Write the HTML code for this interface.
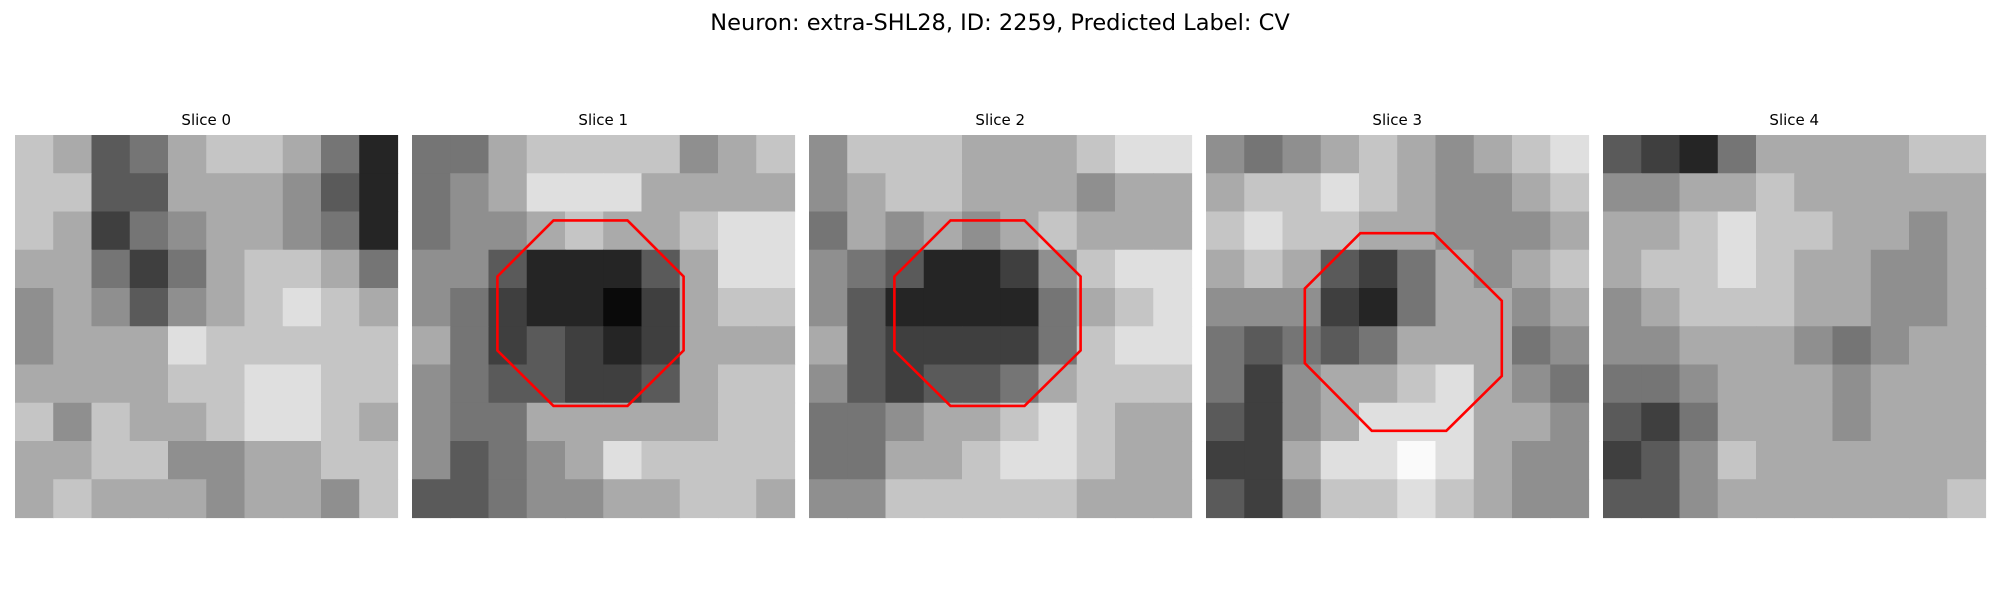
<!DOCTYPE html>
<html><head><meta charset="utf-8"><style>
html,body{margin:0;padding:0;background:#fff;width:2000px;height:600px;overflow:hidden}
svg{display:block}
text{font-family:"DejaVu Sans","Liberation Sans",sans-serif;fill:#000}
</style></head><body>
<svg id="fig" width="2000" height="600">
<text x="1000" y="30" font-size="22.5" text-anchor="middle">Neuron: extra-SHL28, ID: 2259, Predicted Label: CV</text>
</svg>
<script>
const sliceTitles=["Slice 0","Slice 1","Slice 2","Slice 3","Slice 4"];
const slice0=[[7,6,3,4,6,7,7,6,4,1],[7,7,3,3,6,6,6,5,3,1],[7,6,2,4,5,6,6,5,4,1],[6,6,4,2,4,6,7,7,6,4],[5,6,5,3,5,6,7,8,7,6],[5,6,6,6,8,7,7,7,7,7],[6,6,6,6,7,7,8,8,7,7],[7,5,7,6,6,7,8,8,7,6],[6,6,7,7,5,5,6,6,7,7],[6,7,6,6,6,5,6,6,5,7]];
const slice1=[[4,4,6,7,7,7,7,5,6,7],[4,5,6,8,8,8,6,6,6,6],[4,5,5,6,7,6,6,7,8,8],[5,5,3,1,1,1,3,6,8,8],[5,4,2,1,1,0,2,6,7,7],[6,4,2,3,2,1,2,6,6,6],[5,4,3,3,2,2,3,6,7,7],[5,4,4,6,6,6,6,6,7,7],[5,3,4,5,6,8,7,7,7,7],[3,3,4,5,5,6,6,7,7,6]];
const slice2=[[5,7,7,7,6,6,6,7,8,8],[5,6,7,7,6,6,6,5,6,6],[4,6,5,6,5,6,7,6,6,6],[5,4,3,1,1,2,5,7,8,8],[5,3,1,1,1,1,4,6,7,8],[6,3,2,2,2,2,4,7,8,8],[5,3,2,3,3,4,6,7,7,7],[4,4,5,6,6,7,8,7,6,6],[4,4,6,6,7,8,8,7,6,6],[5,5,7,7,7,7,7,6,6,6]];
const slice3=[[5,4,5,6,7,6,5,6,7,8],[6,7,7,8,7,6,5,5,6,7],[7,8,7,7,6,6,5,5,5,6],[6,7,6,3,2,4,6,5,6,7],[5,5,5,2,1,4,6,6,5,6],[4,3,4,3,4,6,6,6,4,5],[4,2,5,6,6,7,8,6,5,4],[3,2,5,6,8,8,8,6,6,5],[2,2,6,8,8,9,8,6,5,5],[3,2,5,7,7,8,7,6,5,5]];
const slice4=[[3,2,1,4,6,6,6,6,7,7],[5,5,6,6,7,6,6,6,6,6],[6,6,7,8,7,7,6,6,5,6],[6,7,7,8,7,6,6,5,5,6],[5,6,7,7,7,6,6,5,5,6],[5,5,6,6,6,5,4,5,6,6],[4,4,5,6,6,6,5,6,6,6],[3,2,4,6,6,6,5,6,6,6],[2,3,5,7,6,6,6,6,6,6],[3,3,5,6,6,6,6,6,6,7]];
const slices=[slice0,slice1,slice2,slice3,slice4];
// octagon vertices in image-pixel units (30x30 grid); null = no ROI
const roi1=[[11.1,6.7],[16.9,6.7],[21.3,11.1],[21.3,16.9],[16.9,21.25],[11.1,21.25],[6.7,16.9],[6.7,11.1]];
const roi2=[[11.1,6.7],[16.9,6.7],[21.3,11.1],[21.3,16.9],[16.9,21.25],[11.1,21.25],[6.7,16.9],[6.7,11.1]];
const roi3=[[12.1,7.7],[17.85,7.7],[23.2,13.0],[23.2,18.9],[18.85,23.2],[13.0,23.2],[7.75,17.9],[7.75,12.05]];
const rois=[null,roi1,roi2,roi3,null];

const NS="http://www.w3.org/2000/svg";
const svg=document.getElementById('fig');
const panelX=[15,412,809,1206,1603], panelY=135, panelSize=382.5;
function gray(v){const g=Math.round(10+v/9*240);return `rgb(${g},${g},${g})`;}
slices.forEach((grid,p)=>{
  const g=document.createElementNS(NS,'g');
  
  
  svg.appendChild(g);
  const n=grid.length, cs=panelSize/n;
  grid.forEach((row,r)=>row.forEach((v,c)=>{
    const rc=document.createElementNS(NS,'rect');
    rc.setAttribute('x',(panelX[p]+c*cs).toFixed(2));
    rc.setAttribute('y',(panelY+r*cs).toFixed(2));
    rc.setAttribute('width',(cs+0.6).toFixed(2));
    rc.setAttribute('height',(cs+0.6).toFixed(2));
    rc.setAttribute('fill',gray(v));
    
    
    g.appendChild(rc);
  }));
  const t=document.createElementNS(NS,'text');
  t.setAttribute('x',panelX[p]+panelSize/2);
  t.setAttribute('y',125);
  t.setAttribute('font-size','15');
  t.setAttribute('text-anchor','middle');
  t.textContent=sliceTitles[p];
  
  
  svg.appendChild(t);
  const roi=rois[p];
  if(roi){
    const u=panelSize/30;
    const pg=document.createElementNS(NS,'polygon');
    pg.setAttribute('points',roi.map(([x,y])=>(panelX[p]+x*u).toFixed(1)+','+(panelY+y*u).toFixed(1)).join(' '));
    pg.setAttribute('fill','none');
    pg.setAttribute('stroke','#ff0000');
    pg.setAttribute('stroke-width','2.6');
    
    
    svg.appendChild(pg);
  }
});
</script>
</body></html>
